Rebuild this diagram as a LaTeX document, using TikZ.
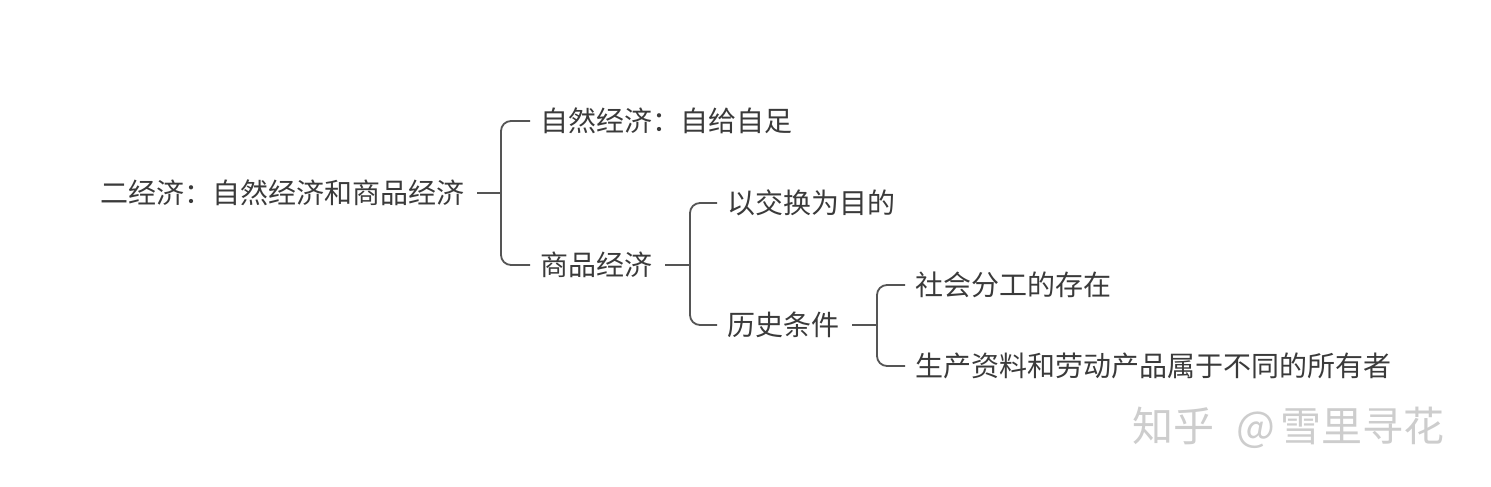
\documentclass[tikz,border=0pt]{standalone}
\usepackage{fontspec}
\setmainfont{Noto Sans CJK SC}
\definecolor{txt}{HTML}{3A3A3A}
\definecolor{ln}{HTML}{555555}
\definecolor{wm}{HTML}{CDCDCD}
\begin{document}
\begin{tikzpicture}[x=1pt,y=-1pt,
  lbl/.style={anchor=west,inner sep=0pt,text=txt,font=\fontsize{28}{30}\selectfont},
  conn/.style={draw=ln,line width=1.8pt,rounded corners=10pt}]
\useasboundingbox[fill=white] (0,0) rectangle (1491,487);
\node[lbl] (root) at (100,193) {二经济：自然经济和商品经济};
\node[lbl] (a) at (540,121) {自然经济：自给自足};
\node[lbl] (b) at (540,265) {商品经济};
\node[lbl] (c) at (727,203) {以交换为目的};
\node[lbl] (d) at (727,325) {历史条件};
\node[lbl] (e) at (915,285) {社会分工的存在};
\node[lbl] (f) at (915,366) {生产资料和劳动产品属于不同的所有者};
\coordinate (j1) at (501,193);
\coordinate (j2) at (690,265);
\coordinate (j3) at (877,325);
\draw[conn] (root.east) ++(13,0) -- (j1);
\draw[conn] ([xshift=-10pt]a.west) -| (j1) |- ([xshift=-10pt]b.west);
\draw[conn] (b.east) ++(13,0) -- (j2);
\draw[conn] ([xshift=-10pt]c.west) -| (j2) |- ([xshift=-10pt]d.west);
\draw[conn] (d.east) ++(13,0) -- (j3);
\draw[conn] ([xshift=-10pt]e.west) -| (j3) |- ([xshift=-10pt]f.west);
\node[anchor=west,inner sep=0pt,text=wm,font=\fontsize{41}{44}\selectfont] (wmk) at (1132,428) {知乎\hspace{22pt}\makebox[44pt][l]{@}雪里寻花};
\end{tikzpicture}
\end{document}
